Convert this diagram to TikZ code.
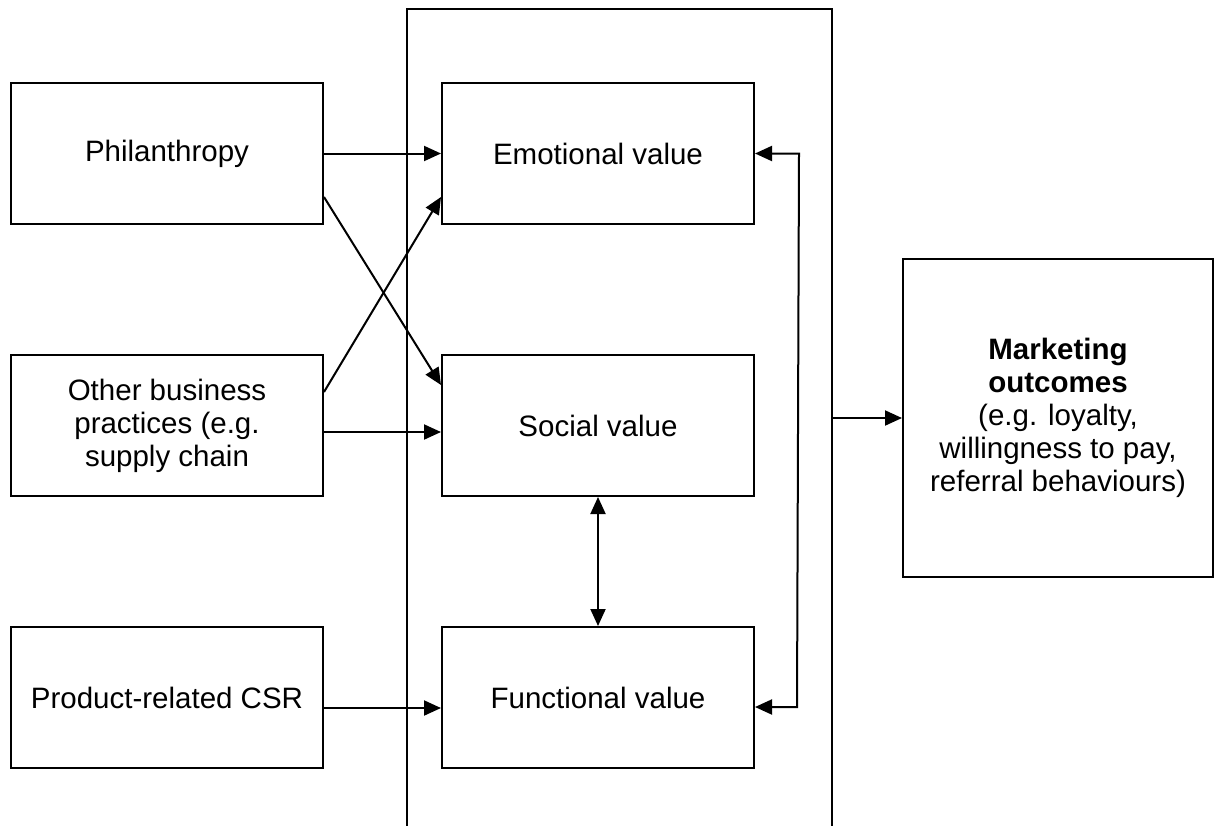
\documentclass[tikz,border=0pt]{standalone}
\usepackage{fontspec}
\setmainfont{Liberation Sans}
\usetikzlibrary{arrows.meta}
\begin{document}
\begin{tikzpicture}[x=1pt,y=-1pt,
  box/.style={draw,line width=2pt,minimum width=312pt,minimum height=141pt,inner sep=0pt,align=center,font=\fontsize{29.5}{33}\selectfont},
  tip/.tip={Triangle[length=17pt,width=15pt]},
  conn/.style={line width=2pt,-tip},
  dconn/.style={line width=2pt,tip-tip}]
\useasboundingbox (0,0) rectangle (1214,825);
% container (open at the bottom)
\draw[line width=2pt] (407,830) -- (407,9) -- (832,9) -- (832,830);
\coordinate (cr) at (832,418);
% left column
\node[box] (phil) at (167,153.5) {Philanthropy};
\node[box] (other) at (167,425.5) {Other business\\practices (e.g.\\supply chain};
\node[box] (prod) at (167,697.5) {Product-related CSR};
% middle column
\node[box] (emo) at (598,153.5) {Emotional value};
\node[box] (soc) at (598,425.5) {Social value};
\node[box] (fun) at (598,697.5) {Functional value};
% outcome
\node[box,minimum width=310pt,minimum height=318pt] (mkt) at (1058,418) {\textbf{Marketing}\\\textbf{outcomes}\\(e.g. loyalty,\\willingness to pay,\\referral behaviours)};
% connectors
\draw[conn] (phil.east) -- (emo.west);
\draw[conn] ([yshift=-43.5pt]phil.east) -- ([yshift=40.5pt]soc.west);
\draw[conn] ([yshift=33.5pt]other.east) -- ([yshift=-43.5pt]emo.west);
\draw[conn] ([yshift=-6.5pt]other.east) -- ([yshift=-6.5pt]soc.west);
\draw[conn] ([yshift=-10.5pt]prod.east) -- ([yshift=-10.5pt]fun.west);
\draw[dconn] (soc.south) -- (fun.north);
\coordinate (r1) at (799,153.5);
\coordinate (r2) at (797,707);
\draw[dconn] (emo.east) -- (r1) -- (r2) -- ([yshift=-9.5pt]fun.east);
\draw[conn] (cr) -- (mkt.west);
\end{tikzpicture}
\end{document}
